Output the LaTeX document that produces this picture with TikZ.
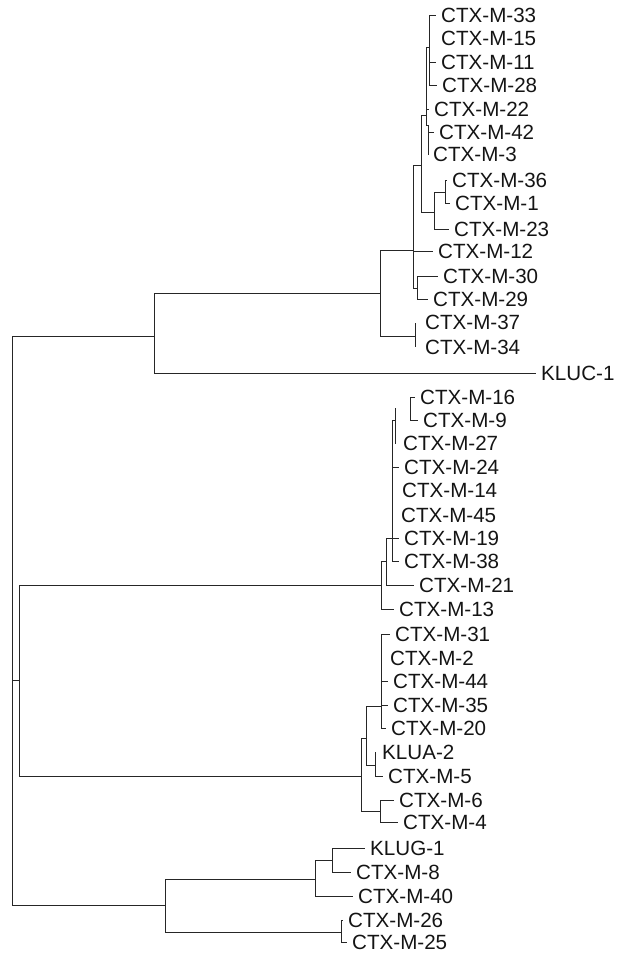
\documentclass[tikz,border=0pt]{standalone}
\usepackage{fontspec}
\setmainfont{Liberation Sans}
\begin{document}
\begin{tikzpicture}[x=1pt,y=-1pt,
  leaf/.style={anchor=west, inner xsep=5pt, inner ysep=0pt, text height=14.7pt, text depth=0pt,
    font=\fontsize{20.6}{24}\selectfont, text=black!92},
  br/.style={draw=black!85, line width=1pt}]
\useasboundingbox (0,0) rectangle (617,954);
% ---------- internal nodes ----------
\coordinate (root) at (12,680);
\coordinate (B) at (154.5,336);
\coordinate (C) at (380,293);
\coordinate (D) at (413,250);
\coordinate (E) at (421,165);
\coordinate (G) at (426,115);
\coordinate (K) at (429,47);
\coordinate (H) at (428.5,125);
\coordinate (I) at (434,212);
\coordinate (J) at (445,192);
\coordinate (F) at (417,288);
\coordinate (L) at (415,336);
\coordinate (P) at (19,680);
\coordinate (Q) at (381,585.5);
\coordinate (AA) at (386.7,561);
\coordinate (BB) at (392,538.5);
\coordinate (CCa) at (395.7,420);
\coordinate (CC) at (395.7,408);
\coordinate (DD) at (410,408.5);
\coordinate (R) at (361.7,776);
\coordinate (W) at (366.7,738);
\coordinate (Y) at (381,706);
\coordinate (Z) at (375,765);
\coordinate (X) at (380,811);
\coordinate (S) at (165.7,905);
\coordinate (T) at (315,879);
\coordinate (V) at (332,860);
\coordinate (U) at (341,932);
% ---------- leaves ----------
\node[leaf] (l33) at (436,15) {CTX-M-33};
\node[leaf] (l15) at (436,38.5) {CTX-M-15};
\node[leaf] (l11) at (436,62) {CTX-M-11};
\node[leaf] (l28) at (437,85.5) {CTX-M-28};
\node[leaf] (l22) at (429,109) {CTX-M-22};
\node[leaf] (l42) at (434,132) {CTX-M-42};
\node[leaf] (l3) at (428,154.5) {CTX-M-3};
\node[leaf] (l36) at (447,180) {CTX-M-36};
\node[leaf] (l1) at (450,203) {CTX-M-1};
\node[leaf] (l23) at (449,229.5) {CTX-M-23};
\node[leaf] (l12) at (433,251) {CTX-M-12};
\node[leaf] (l30) at (438,276) {CTX-M-30};
\node[leaf] (l29) at (428,299) {CTX-M-29};
\node[leaf] (l37) at (420,322.5) {CTX-M-37};
\node[leaf] (l34) at (420,347) {CTX-M-34};
\node[leaf] (kluc) at (536,373.5) {KLUC-1};
\node[leaf] (l16) at (415,397) {CTX-M-16};
\node[leaf] (l9) at (418,420) {CTX-M-9};
\node[leaf] (l27) at (398,443.5) {CTX-M-27};
\node[leaf] (l24) at (399,467) {CTX-M-24};
\node[leaf] (l14) at (397,490.5) {CTX-M-14};
\node[leaf] (l45) at (396,515) {CTX-M-45};
\node[leaf] (l19) at (399,538.5) {CTX-M-19};
\node[leaf] (l38) at (399,561) {CTX-M-38};
\node[leaf] (l21) at (414,585.5) {CTX-M-21};
\node[leaf] (l13) at (394,609.5) {CTX-M-13};
\node[leaf] (l31) at (390,634.5) {CTX-M-31};
\node[leaf] (l2) at (385,658) {CTX-M-2};
\node[leaf] (l44) at (388,681.5) {CTX-M-44};
\node[leaf] (l35) at (388,705) {CTX-M-35};
\node[leaf] (l20) at (386,728) {CTX-M-20};
\node[leaf] (klua) at (377,752) {KLUA-2};
\node[leaf] (l5) at (383,776) {CTX-M-5};
\node[leaf] (l6) at (394,800) {CTX-M-6};
\node[leaf] (l4) at (398,822.5) {CTX-M-4};
\node[leaf] (klug) at (365,848) {KLUG-1};
\node[leaf] (l8) at (351,872.5) {CTX-M-8};
\node[leaf] (l40) at (353,896.5) {CTX-M-40};
\node[leaf] (l26) at (343,920.5) {CTX-M-26};
\node[leaf] (l25) at (347,942.5) {CTX-M-25};
% ---------- branches ----------
\draw[br] (root) |- (B);
\draw[br] (root) |- (S);
\draw[br] (root) -- (P);
\draw[br] (B) |- (C);
\draw[br] (B) |- (kluc.west);
\draw[br] (C) |- (D);
\draw[br] (C) |- (L);
\draw[br] (D) |- (E);
\draw[br] (D) |- (l12.west);
\draw[br] (D) |- (F);
\draw[br] (E) |- (G);
\draw[br] (E) |- (I);
\draw[br] (G) |- (K);
\draw[br] (G) |- (l22.west);
\draw[br] (G) |- (H);
\draw[br] (K) |- (l33.west);
\draw[br] (K) |- (l11.west);
\draw[br] (K) |- (l28.west);
\draw[br] (H) |- (l42.west);
\draw[br] (H) -- (H |- l3.west);
\draw[br] (I) |- (J);
\draw[br] (I) |- (l23.west);
\draw[br] (J) |- (l36.west);
\draw[br] (J) |- (l1.west);
\draw[br] (F) |- (l30.west);
\draw[br] (F) |- (l29.west);
\draw[br] (L) -- (L |- l37.west);
\draw[br] (L) -- (L |- l34.west);
\draw[br] (P) |- (Q);
\draw[br] (P) |- (R);
\draw[br] (Q) |- (AA);
\draw[br] (Q) |- (l13.west);
\draw[br] (AA) |- (BB);
\draw[br] (AA) |- (l21.west);
\draw[br] (BB) |- (CCa);
\draw[br] (BB) |- (l24.west);
\draw[br] (BB) |- (l19.west);
\draw[br] (BB) |- (l38.west);
\draw[br] (CC) -- (CC |- l27.west);
\draw[br] (DD) |- (l16.west);
\draw[br] (DD) |- (l9.west);
\draw[br] (R) |- (W);
\draw[br] (R) |- (X);
\draw[br] (W) |- (Y);
\draw[br] (W) |- (Z);
\draw[br] (Y) |- (l31.west);
\draw[br] (Y) |- (l44.west);
\draw[br] (Y) |- (l35.west);
\draw[br] (Y) |- (l20.west);
\draw[br] (Z) -- (Z |- klua.west);
\draw[br] (Z) |- (l5.west);
\draw[br] (X) |- (l6.west);
\draw[br] (X) |- (l4.west);
\draw[br] (S) |- (T);
\draw[br] (S) |- (U);
\draw[br] (T) |- (V);
\draw[br] (T) |- (l40.west);
\draw[br] (V) |- (klug.west);
\draw[br] (V) |- (l8.west);
\draw[br] (U) |- (l26.west);
\draw[br] (U) |- (l25.west);
\end{tikzpicture}
\end{document}
